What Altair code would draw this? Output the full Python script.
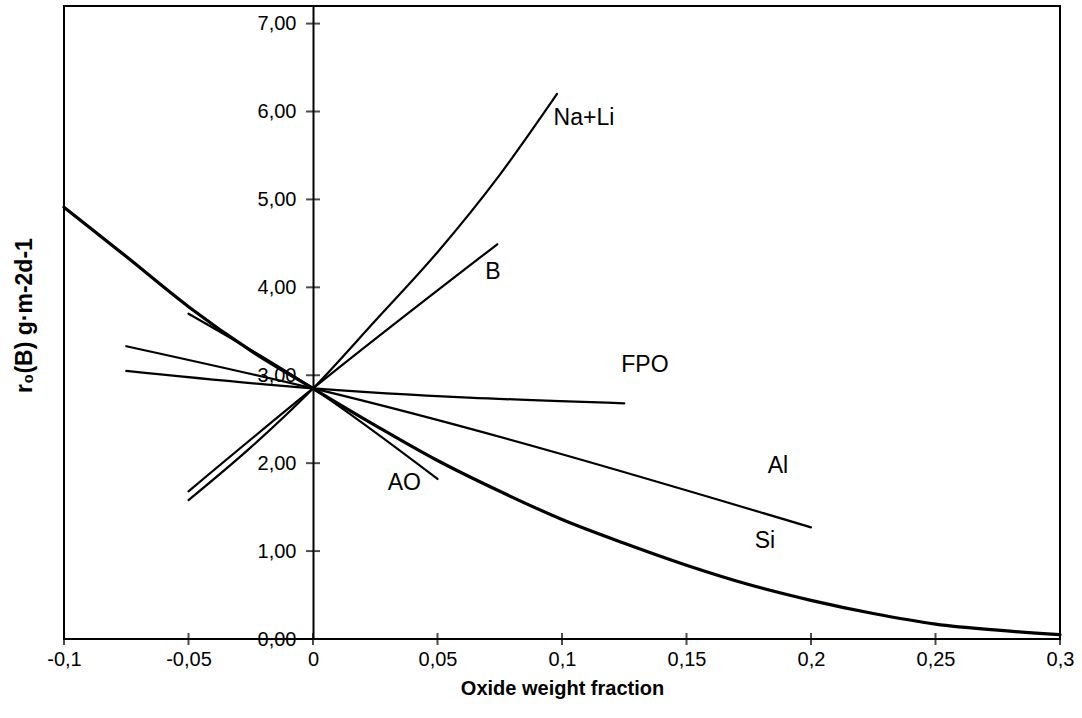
import altair as alt
import pandas as pd

# ---- data ----
x_ticks = [-0.1, -0.05, 0, 0.05, 0.1, 0.15, 0.2, 0.25, 0.3]
y_ticks = [0, 1, 2, 3, 4, 5, 6, 7]

si_x = [-0.1, -0.075, -0.05, -0.025, 0, 0.025, 0.05, 0.075, 0.1, 0.125, 0.15,
        0.175, 0.2, 0.225, 0.25, 0.275, 0.3]
si_y = [4.91, 4.35, 3.78, 3.28, 2.85, 2.43, 2.03, 1.68, 1.36, 1.09, 0.84,
        0.62, 0.44, 0.29, 0.17, 0.10, 0.05]

nali_x = [-0.05, -0.025, 0, 0.025, 0.05, 0.075, 0.098]
nali_y = [1.58, 2.18, 2.85, 3.62, 4.40, 5.28, 6.20]

b_x = [-0.05, 0, 0.074]
b_y = [1.68, 2.85, 4.49]

ao_x = [-0.05, 0, 0.05]
ao_y = [3.70, 2.85, 1.82]

al_x = [-0.075, 0, 0.2]
al_y = [3.33, 2.85, 1.27]

fpo_x = [-0.075, 0, 0.125]
fpo_y = [3.05, 2.85, 2.68]

label_text = ["Na+Li", "B", "FPO", "Al", "Si", "AO"]
label_x = [0.1088, 0.0723, 0.1333, 0.1867, 0.1815, 0.0367]
label_y = [5.93, 4.18, 3.12, 1.97, 1.12, 1.78]

# ---- tables ----
def series(name, xs, ys):
    return pd.DataFrame({"x": xs, "y": ys, "series": name})

thin = pd.concat([
    series("Na+Li", nali_x, nali_y),
    series("B", b_x, b_y),
    series("AO", ao_x, ao_y),
    series("Al", al_x, al_y),
    series("FPO", fpo_x, fpo_y),
], ignore_index=True)
thick = series("Si", si_x, si_y)
labels = pd.DataFrame({"x": label_x, "y": label_y, "t": label_text})
ytick_df = pd.DataFrame({"x": [0] * len(y_ticks), "y": y_ticks})
xtick_df = pd.DataFrame({"x": x_ticks, "y": [0] * len(x_ticks)})

W, H = 996, 633
FONT = "Liberation Sans"

xscale = alt.Scale(domain=[-0.1, 0.3], nice=False, zero=False)
yscale = alt.Scale(domain=[0, 7.2], nice=False, zero=False)

x_enc = alt.X(
    "x:Q", scale=xscale,
    axis=alt.Axis(
        values=x_ticks,
        labelExpr="replace(datum.value + '', '.', ',')",
        ticks=False, grid=False, domain=False,
        labelPadding=10, labelFontSize=20, labelFlush=False,
        title="Oxide weight fraction", titleFontWeight="bold",
        titleFontSize=20, titlePadding=9,
    ),
)
y_enc = alt.Y(
    "y:Q", scale=yscale,
    axis=alt.Axis(
        values=y_ticks,
        labelExpr="replace(format(datum.value, '.2f'), '.', ',')",
        ticks=False, grid=False, domain=True, domainColor="black",
        domainWidth=2, offset=-249, labelPadding=17, labelFontSize=20,
        title="r₀(B) g·m-2d-1", titleFontWeight="bold", titleFontSize=23,
        titleAngle=270, titleX=-289, titleY=309, titleAlign="center",
        titleBaseline="middle",
    ),
)

thin_lines = alt.Chart(thin).mark_line(
    color="black", strokeWidth=2.2, interpolate="monotone", strokeCap="round"
).encode(x=x_enc, y=y_enc, detail="series:N")

thick_line = alt.Chart(thick).mark_line(
    color="black", strokeWidth=3.2, interpolate="monotone", strokeCap="round"
).encode(x="x:Q", y="y:Q")

yticks = alt.Chart(ytick_df).mark_tick(
    orient="horizontal", size=14, thickness=2, color="black"
).encode(x="x:Q", y="y:Q")

xticks = alt.Chart(xtick_df).mark_tick(
    orient="vertical", size=12, thickness=2, color="black"
).encode(x="x:Q", y="y:Q")

texts = alt.Chart(labels).mark_text(
    font=FONT, fontSize=23, align="center", baseline="middle", color="black"
).encode(x="x:Q", y="y:Q", text="t:N")

chart = alt.layer(thin_lines, thick_line, yticks, xticks, texts).properties(
    width=W, height=H,
    autosize=alt.AutoSizeParams(type="none"),
    padding={"left": 64, "top": 6, "right": 22, "bottom": 79},
    background="white",
).configure_view(
    stroke="black", strokeWidth=2
).configure_axis(
    labelFont=FONT, titleFont=FONT, labelColor="black", titleColor="black"
)

chart.save("out.html", embed_options={"renderer": "svg", "actions": False})
